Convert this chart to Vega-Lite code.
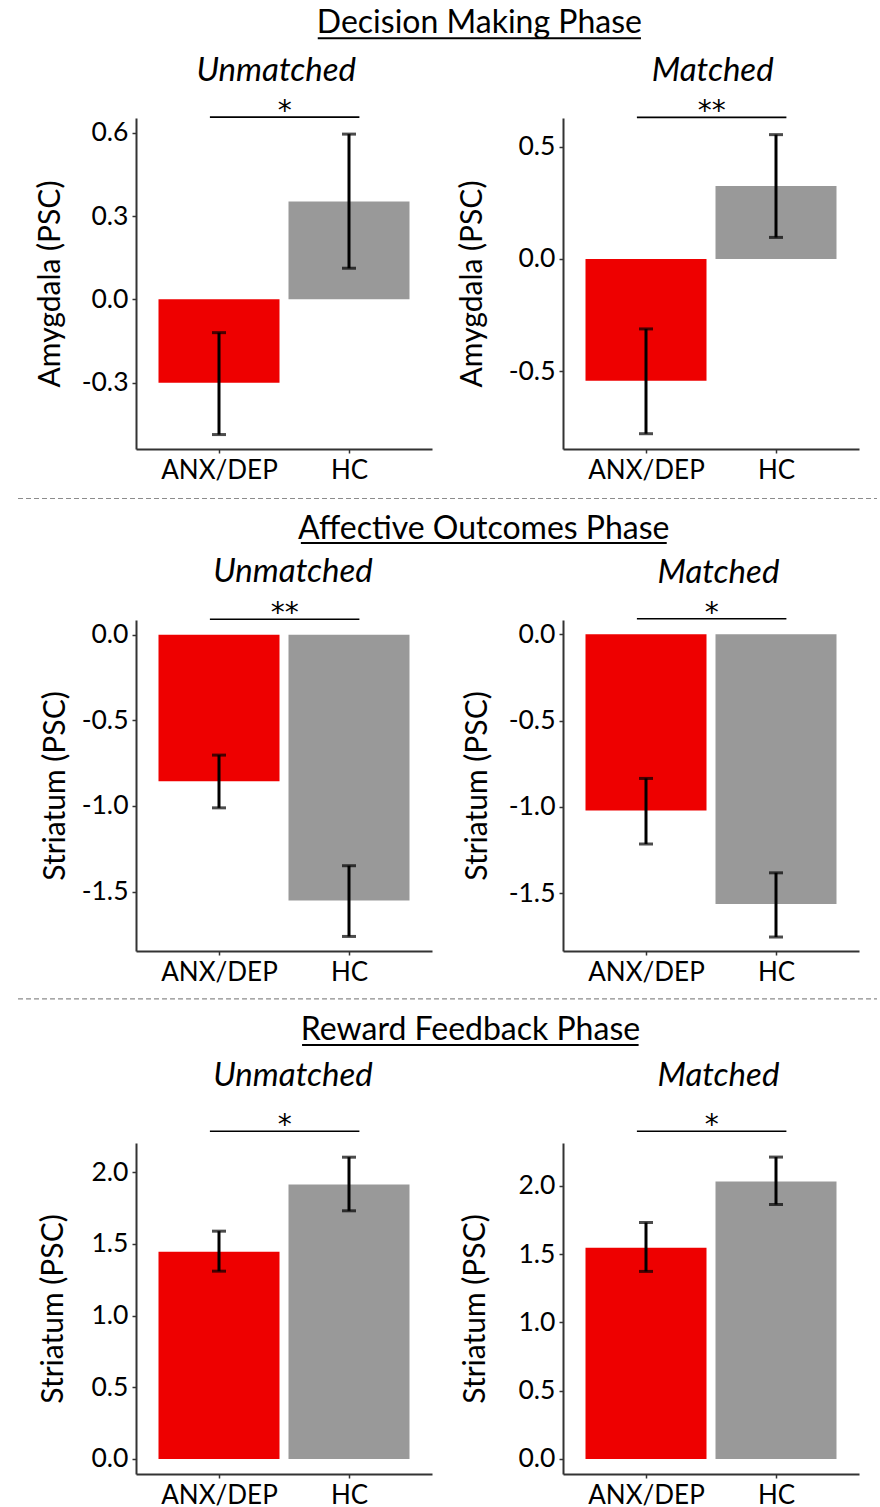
{
  "$schema": "https://vega.github.io/schema/vega-lite/v6.json",
  "background": "white",
  "padding": {"left": 17, "top": 0, "right": 0, "bottom": 0},
  "datasets": {
    "bars": [
      {"panel": "P1", "group": "ANX/DEP", "pos": 1, "psc": -0.300, "lo": -0.487, "hi": -0.120},
      {"panel": "P1", "group": "HC", "pos": 2, "psc": 0.352, "lo": 0.112, "hi": 0.595},
      {"panel": "P2", "group": "ANX/DEP", "pos": 1, "psc": -0.542, "lo": -0.777, "hi": -0.311},
      {"panel": "P2", "group": "HC", "pos": 2, "psc": 0.325, "lo": 0.096, "hi": 0.553},
      {"panel": "P3", "group": "ANX/DEP", "pos": 1, "psc": -0.855, "lo": -1.011, "hi": -0.703},
      {"panel": "P3", "group": "HC", "pos": 2, "psc": -1.552, "lo": -1.762, "hi": -1.349},
      {"panel": "P4", "group": "ANX/DEP", "pos": 1, "psc": -1.021, "lo": -1.215, "hi": -0.835},
      {"panel": "P4", "group": "HC", "pos": 2, "psc": -1.563, "lo": -1.754, "hi": -1.382},
      {"panel": "P5", "group": "ANX/DEP", "pos": 1, "psc": 1.445, "lo": 1.310, "hi": 1.589},
      {"panel": "P5", "group": "HC", "pos": 2, "psc": 1.915, "lo": 1.731, "hi": 2.105},
      {"panel": "P6", "group": "ANX/DEP", "pos": 1, "psc": 1.547, "lo": 1.373, "hi": 1.731},
      {"panel": "P6", "group": "HC", "pos": 2, "psc": 2.032, "lo": 1.863, "hi": 2.210}
    ],
    "sig": [
      {"panel": "P1", "sample": "Unmatched", "y": 0.656, "label": "*"},
      {"panel": "P2", "sample": "Matched", "y": 0.630, "label": "**"},
      {"panel": "P3", "sample": "Unmatched", "y": 0.090, "label": "**"},
      {"panel": "P4", "sample": "Matched", "y": 0.090, "label": "*"},
      {"panel": "P5", "sample": "Unmatched", "y": 2.286, "label": "*"},
      {"panel": "P6", "sample": "Matched", "y": 2.399, "label": "*"}
    ],
    "sections": [
      {"row": 1, "title": "Decision Making Phase"},
      {"row": 2, "title": "Affective Outcomes Phase"},
      {"row": 3, "title": "Reward Feedback Phase"}
    ]
  },
  "columns": 2,
  "bounds": "flush",
  "align": "each",
  "spacing": {"row": 0, "column": 131},
  "concat": [
    {
      "width": 296, "height": 118,
      "data": {"name": "sections"},
      "transform": [{"filter": "datum.row === 1"}],
      "layer": [
        {"mark": {"type": "text", "fontSize": 32, "baseline": "alphabetic", "align": "center", "color": "black"},
         "encoding": {
           "x": {"datum": 1.16, "type": "quantitative", "scale": {"domain": [0, 1], "nice": false, "zero": false}, "axis": null},
           "y": {"datum": 0.2822, "type": "quantitative", "scale": {"domain": [0, 1], "reverse": true, "nice": false, "zero": false}, "axis": null},
           "text": {"field": "title"}}},
        {"mark": {"type": "rule", "strokeWidth": 2, "color": "black"},
         "encoding": {"x": {"datum": 0.614, "type": "quantitative"}, "x2": {"datum": 1.706}, "y": {"datum": 0.3246, "type": "quantitative"}}}
      ]
    },
    {"width": 296, "height": 118, "data": {"values": [{"t": ""}]}, "mark": "text", "encoding": {"text": {"field": "t"}}},
    {
      "width": 296, "height": 331,
      "data": {"name": "bars"},
      "transform": [{"filter": "datum.panel === 'P1'"}],
      "layer": [
        {"mark": {"type": "bar", "width": 121, "orient": "vertical"},
         "encoding": {
           "x": {"field": "pos", "type": "quantitative", "title": null, "scale": {"domain": [0.4, 2.6], "nice": false, "zero": false}, "axis": {"values": [1, 2], "labelExpr": "datum.value === 1 ? 'ANX/DEP' : 'HC'"}},
           "y": {"field": "psc", "type": "quantitative", "title": "Amygdala (PSC)", "scale": {"domain": [-0.539, 0.653], "nice": false, "zero": false}, "axis": {"values": [-0.3, 0, 0.3, 0.6], "format": ".1f", "titlePadding": 16}},
           "y2": {"datum": 0},
           "color": {"field": "group", "type": "nominal", "scale": {"domain": ["ANX/DEP", "HC"], "range": ["#ee0000", "#999999"]}, "legend": null}}},
        {"mark": {"type": "rule", "strokeWidth": 3, "color": "black"},
         "encoding": {"x": {"field": "pos", "type": "quantitative", "title": null}, "y": {"field": "lo", "type": "quantitative", "title": "Amygdala (PSC)"}, "y2": {"field": "hi"}}},
        {"mark": {"type": "tick", "orient": "horizontal", "size": 14, "thickness": 3, "color": "black"},
         "encoding": {"x": {"field": "pos", "type": "quantitative", "title": null}, "y": {"field": "lo", "type": "quantitative", "title": "Amygdala (PSC)"}}},
        {"mark": {"type": "tick", "orient": "horizontal", "size": 14, "thickness": 3, "color": "black"},
         "encoding": {"x": {"field": "pos", "type": "quantitative", "title": null}, "y": {"field": "hi", "type": "quantitative", "title": "Amygdala (PSC)"}}},
        {"data": {"name": "sig"}, "transform": [{"filter": "datum.panel === 'P1'"}],
         "mark": {"type": "rule", "strokeWidth": 1.6, "color": "black"},
         "encoding": {"x": {"datum": 0.93, "type": "quantitative"}, "x2": {"datum": 2.08}, "y": {"field": "y", "type": "quantitative", "title": "Amygdala (PSC)"}}},
        {"data": {"name": "sig"}, "transform": [{"filter": "datum.panel === 'P1'"}],
         "mark": {"type": "text", "font": "DejaVu Sans", "fontSize": 28, "baseline": "alphabetic", "dy": 3, "color": "black"},
         "encoding": {"x": {"datum": 1.505, "type": "quantitative"}, "y": {"field": "y", "type": "quantitative", "title": "Amygdala (PSC)"}, "text": {"field": "label"}}},
        {"data": {"name": "sig"}, "transform": [{"filter": "datum.panel === 'P1'"}],
         "mark": {"type": "text", "fontSize": 33, "fontStyle": "italic", "baseline": "alphabetic", "align": "center", "color": "black"},
         "encoding": {"x": {"datum": 1.44, "type": "quantitative"}, "y": {"datum": 0.786, "type": "quantitative"}, "text": {"field": "sample"}}}
      ]
    },
    {
      "width": 296, "height": 331,
      "data": {"name": "bars"},
      "transform": [{"filter": "datum.panel === 'P2'"}],
      "layer": [
        {"mark": {"type": "bar", "width": 121, "orient": "vertical"},
         "encoding": {
           "x": {"field": "pos", "type": "quantitative", "title": null, "scale": {"domain": [0.4, 2.6], "nice": false, "zero": false}, "axis": {"values": [1, 2], "labelExpr": "datum.value === 1 ? 'ANX/DEP' : 'HC'"}},
           "y": {"field": "psc", "type": "quantitative", "title": "Amygdala (PSC)", "scale": {"domain": [-0.845, 0.627], "nice": false, "zero": false}, "axis": {"values": [-0.5, 0, 0.5], "format": ".1f", "titlePadding": 21}},
           "y2": {"datum": 0},
           "color": {"field": "group", "type": "nominal", "scale": {"domain": ["ANX/DEP", "HC"], "range": ["#ee0000", "#999999"]}, "legend": null}}},
        {"mark": {"type": "rule", "strokeWidth": 3, "color": "black"},
         "encoding": {"x": {"field": "pos", "type": "quantitative", "title": null}, "y": {"field": "lo", "type": "quantitative", "title": "Amygdala (PSC)"}, "y2": {"field": "hi"}}},
        {"mark": {"type": "tick", "orient": "horizontal", "size": 14, "thickness": 3, "color": "black"},
         "encoding": {"x": {"field": "pos", "type": "quantitative", "title": null}, "y": {"field": "lo", "type": "quantitative", "title": "Amygdala (PSC)"}}},
        {"mark": {"type": "tick", "orient": "horizontal", "size": 14, "thickness": 3, "color": "black"},
         "encoding": {"x": {"field": "pos", "type": "quantitative", "title": null}, "y": {"field": "hi", "type": "quantitative", "title": "Amygdala (PSC)"}}},
        {"data": {"name": "sig"}, "transform": [{"filter": "datum.panel === 'P2'"}],
         "mark": {"type": "rule", "strokeWidth": 1.6, "color": "black"},
         "encoding": {"x": {"datum": 0.93, "type": "quantitative"}, "x2": {"datum": 2.08}, "y": {"field": "y", "type": "quantitative", "title": "Amygdala (PSC)"}}},
        {"data": {"name": "sig"}, "transform": [{"filter": "datum.panel === 'P2'"}],
         "mark": {"type": "text", "font": "DejaVu Sans", "fontSize": 28, "baseline": "alphabetic", "dy": 3, "color": "black"},
         "encoding": {"x": {"datum": 1.505, "type": "quantitative"}, "y": {"field": "y", "type": "quantitative", "title": "Amygdala (PSC)"}, "text": {"field": "label"}}},
        {"data": {"name": "sig"}, "transform": [{"filter": "datum.panel === 'P2'"}],
         "mark": {"type": "text", "fontSize": 33, "fontStyle": "italic", "baseline": "alphabetic", "align": "center", "color": "black"},
         "encoding": {"x": {"datum": 1.513, "type": "quantitative"}, "y": {"datum": 0.7915, "type": "quantitative"}, "text": {"field": "sample"}}}
      ]
    },
    {
      "width": 296, "height": 170.5,
      "data": {"name": "sections"},
      "transform": [{"filter": "datum.row === 2"}],
      "layer": [
        {"mark": {"type": "rule", "strokeWidth": 1.2, "color": "#8c8c8c", "strokeDash": [5, 3]},
         "encoding": {
           "x": {"datum": -0.3986, "type": "quantitative", "scale": {"domain": [0, 1], "nice": false, "zero": false}, "axis": null},
           "x2": {"datum": 2.5034},
           "y": {"datum": 0.2903, "type": "quantitative", "scale": {"domain": [0, 1], "reverse": true, "nice": false, "zero": false}, "axis": null}}},
        {"mark": {"type": "text", "fontSize": 32, "baseline": "alphabetic", "align": "center", "color": "black"},
         "encoding": {"x": {"datum": 1.175, "type": "quantitative"}, "y": {"datum": 0.525, "type": "quantitative"}, "text": {"field": "title"}}},
        {"mark": {"type": "rule", "strokeWidth": 2, "color": "black"},
         "encoding": {"x": {"datum": 0.557, "type": "quantitative"}, "x2": {"datum": 1.793}, "y": {"datum": 0.5513, "type": "quantitative"}}}
      ]
    },
    {"width": 296, "height": 170.5, "data": {"values": [{"t": ""}]}, "mark": "text", "encoding": {"text": {"field": "t"}}},
    {
      "width": 296, "height": 331,
      "data": {"name": "bars"},
      "transform": [{"filter": "datum.panel === 'P3'"}],
      "layer": [
        {"mark": {"type": "bar", "width": 121, "orient": "vertical"},
         "encoding": {
           "x": {"field": "pos", "type": "quantitative", "title": null, "scale": {"domain": [0.4, 2.6], "nice": false, "zero": false}, "axis": {"values": [1, 2], "labelExpr": "datum.value === 1 ? 'ANX/DEP' : 'HC'"}},
           "y": {"field": "psc", "type": "quantitative", "title": "Striatum (PSC)", "scale": {"domain": [-1.847, 0.086], "nice": false, "zero": false}, "axis": {"values": [-1.5, -1, -0.5, 0], "format": ".1f", "titlePadding": 11}},
           "y2": {"datum": 0},
           "color": {"field": "group", "type": "nominal", "scale": {"domain": ["ANX/DEP", "HC"], "range": ["#ee0000", "#999999"]}, "legend": null}}},
        {"mark": {"type": "rule", "strokeWidth": 3, "color": "black"},
         "encoding": {"x": {"field": "pos", "type": "quantitative", "title": null}, "y": {"field": "lo", "type": "quantitative", "title": "Striatum (PSC)"}, "y2": {"field": "hi"}}},
        {"mark": {"type": "tick", "orient": "horizontal", "size": 14, "thickness": 3, "color": "black"},
         "encoding": {"x": {"field": "pos", "type": "quantitative", "title": null}, "y": {"field": "lo", "type": "quantitative", "title": "Striatum (PSC)"}}},
        {"mark": {"type": "tick", "orient": "horizontal", "size": 14, "thickness": 3, "color": "black"},
         "encoding": {"x": {"field": "pos", "type": "quantitative", "title": null}, "y": {"field": "hi", "type": "quantitative", "title": "Striatum (PSC)"}}},
        {"data": {"name": "sig"}, "transform": [{"filter": "datum.panel === 'P3'"}],
         "mark": {"type": "rule", "strokeWidth": 1.6, "color": "black"},
         "encoding": {"x": {"datum": 0.93, "type": "quantitative"}, "x2": {"datum": 2.08}, "y": {"field": "y", "type": "quantitative", "title": "Striatum (PSC)"}}},
        {"data": {"name": "sig"}, "transform": [{"filter": "datum.panel === 'P3'"}],
         "mark": {"type": "text", "font": "DejaVu Sans", "fontSize": 28, "baseline": "alphabetic", "dy": 3, "color": "black"},
         "encoding": {"x": {"datum": 1.505, "type": "quantitative"}, "y": {"field": "y", "type": "quantitative", "title": "Striatum (PSC)"}, "text": {"field": "label"}}},
        {"data": {"name": "sig"}, "transform": [{"filter": "datum.panel === 'P3'"}],
         "mark": {"type": "text", "fontSize": 33, "fontStyle": "italic", "baseline": "alphabetic", "align": "center", "color": "black"},
         "encoding": {"x": {"datum": 1.569, "type": "quantitative"}, "y": {"datum": 0.3068, "type": "quantitative"}, "text": {"field": "sample"}}}
      ]
    },
    {
      "width": 296, "height": 331,
      "data": {"name": "bars"},
      "transform": [{"filter": "datum.panel === 'P4'"}],
      "layer": [
        {"mark": {"type": "bar", "width": 121, "orient": "vertical"},
         "encoding": {
           "x": {"field": "pos", "type": "quantitative", "title": null, "scale": {"domain": [0.4, 2.6], "nice": false, "zero": false}, "axis": {"values": [1, 2], "labelExpr": "datum.value === 1 ? 'ANX/DEP' : 'HC'"}},
           "y": {"field": "psc", "type": "quantitative", "title": "Striatum (PSC)", "scale": {"domain": [-1.835, 0.083], "nice": false, "zero": false}, "axis": {"values": [-1.5, -1, -0.5, 0], "format": ".1f", "titlePadding": 16}},
           "y2": {"datum": 0},
           "color": {"field": "group", "type": "nominal", "scale": {"domain": ["ANX/DEP", "HC"], "range": ["#ee0000", "#999999"]}, "legend": null}}},
        {"mark": {"type": "rule", "strokeWidth": 3, "color": "black"},
         "encoding": {"x": {"field": "pos", "type": "quantitative", "title": null}, "y": {"field": "lo", "type": "quantitative", "title": "Striatum (PSC)"}, "y2": {"field": "hi"}}},
        {"mark": {"type": "tick", "orient": "horizontal", "size": 14, "thickness": 3, "color": "black"},
         "encoding": {"x": {"field": "pos", "type": "quantitative", "title": null}, "y": {"field": "lo", "type": "quantitative", "title": "Striatum (PSC)"}}},
        {"mark": {"type": "tick", "orient": "horizontal", "size": 14, "thickness": 3, "color": "black"},
         "encoding": {"x": {"field": "pos", "type": "quantitative", "title": null}, "y": {"field": "hi", "type": "quantitative", "title": "Striatum (PSC)"}}},
        {"data": {"name": "sig"}, "transform": [{"filter": "datum.panel === 'P4'"}],
         "mark": {"type": "rule", "strokeWidth": 1.6, "color": "black"},
         "encoding": {"x": {"datum": 0.93, "type": "quantitative"}, "x2": {"datum": 2.08}, "y": {"field": "y", "type": "quantitative", "title": "Striatum (PSC)"}}},
        {"data": {"name": "sig"}, "transform": [{"filter": "datum.panel === 'P4'"}],
         "mark": {"type": "text", "font": "DejaVu Sans", "fontSize": 28, "baseline": "alphabetic", "dy": 3, "color": "black"},
         "encoding": {"x": {"datum": 1.505, "type": "quantitative"}, "y": {"field": "y", "type": "quantitative", "title": "Striatum (PSC)"}, "text": {"field": "label"}}},
        {"data": {"name": "sig"}, "transform": [{"filter": "datum.panel === 'P4'"}],
         "mark": {"type": "text", "fontSize": 33, "fontStyle": "italic", "baseline": "alphabetic", "align": "center", "color": "black"},
         "encoding": {"x": {"datum": 1.557, "type": "quantitative"}, "y": {"datum": 0.300, "type": "quantitative"}, "text": {"field": "sample"}}}
      ]
    },
    {
      "width": 296, "height": 191.5,
      "data": {"name": "sections"},
      "transform": [{"filter": "datum.row === 3"}],
      "layer": [
        {"mark": {"type": "rule", "strokeWidth": 1.2, "color": "#8c8c8c", "strokeDash": [5, 3]},
         "encoding": {
           "x": {"datum": -0.3986, "type": "quantitative", "scale": {"domain": [0, 1], "nice": false, "zero": false}, "axis": null},
           "x2": {"datum": 2.5034},
           "y": {"datum": 0.2496, "type": "quantitative", "scale": {"domain": [0, 1], "reverse": true, "nice": false, "zero": false}, "axis": null}}},
        {"mark": {"type": "text", "fontSize": 32, "baseline": "alphabetic", "align": "center", "color": "black"},
         "encoding": {"x": {"datum": 1.13, "type": "quantitative"}, "y": {"datum": 0.4648, "type": "quantitative"}, "text": {"field": "title"}}},
        {"mark": {"type": "rule", "strokeWidth": 2, "color": "black"},
         "encoding": {"x": {"datum": 0.561, "type": "quantitative"}, "x2": {"datum": 1.698}, "y": {"datum": 0.4909, "type": "quantitative"}}}
      ]
    },
    {"width": 296, "height": 191.5, "data": {"values": [{"t": ""}]}, "mark": "text", "encoding": {"text": {"field": "t"}}},
    {
      "width": 296, "height": 331,
      "data": {"name": "bars"},
      "transform": [{"filter": "datum.panel === 'P5'"}],
      "layer": [
        {"mark": {"type": "bar", "width": 121, "orient": "vertical"},
         "encoding": {
           "x": {"field": "pos", "type": "quantitative", "title": null, "scale": {"domain": [0.4, 2.6], "nice": false, "zero": false}, "axis": {"values": [1, 2], "labelExpr": "datum.value === 1 ? 'ANX/DEP' : 'HC'"}},
           "y": {"field": "psc", "type": "quantitative", "title": "Striatum (PSC)", "scale": {"domain": [-0.105, 2.204], "nice": false, "zero": false}, "axis": {"values": [0, 0.5, 1, 1.5, 2], "format": ".1f", "titlePadding": 23}},
           "y2": {"datum": 0},
           "color": {"field": "group", "type": "nominal", "scale": {"domain": ["ANX/DEP", "HC"], "range": ["#ee0000", "#999999"]}, "legend": null}}},
        {"mark": {"type": "rule", "strokeWidth": 3, "color": "black"},
         "encoding": {"x": {"field": "pos", "type": "quantitative", "title": null}, "y": {"field": "lo", "type": "quantitative", "title": "Striatum (PSC)"}, "y2": {"field": "hi"}}},
        {"mark": {"type": "tick", "orient": "horizontal", "size": 14, "thickness": 3, "color": "black"},
         "encoding": {"x": {"field": "pos", "type": "quantitative", "title": null}, "y": {"field": "lo", "type": "quantitative", "title": "Striatum (PSC)"}}},
        {"mark": {"type": "tick", "orient": "horizontal", "size": 14, "thickness": 3, "color": "black"},
         "encoding": {"x": {"field": "pos", "type": "quantitative", "title": null}, "y": {"field": "hi", "type": "quantitative", "title": "Striatum (PSC)"}}},
        {"data": {"name": "sig"}, "transform": [{"filter": "datum.panel === 'P5'"}],
         "mark": {"type": "rule", "strokeWidth": 1.6, "color": "black"},
         "encoding": {"x": {"datum": 0.93, "type": "quantitative"}, "x2": {"datum": 2.08}, "y": {"field": "y", "type": "quantitative", "title": "Striatum (PSC)"}}},
        {"data": {"name": "sig"}, "transform": [{"filter": "datum.panel === 'P5'"}],
         "mark": {"type": "text", "font": "DejaVu Sans", "fontSize": 28, "baseline": "alphabetic", "dy": 3, "color": "black"},
         "encoding": {"x": {"datum": 1.505, "type": "quantitative"}, "y": {"field": "y", "type": "quantitative", "title": "Striatum (PSC)"}, "text": {"field": "label"}}},
        {"data": {"name": "sig"}, "transform": [{"filter": "datum.panel === 'P5'"}],
         "mark": {"type": "text", "fontSize": 33, "fontStyle": "italic", "baseline": "alphabetic", "align": "center", "color": "black"},
         "encoding": {"x": {"datum": 1.569, "type": "quantitative"}, "y": {"datum": 2.6016, "type": "quantitative"}, "text": {"field": "sample"}}}
      ]
    },
    {
      "width": 296, "height": 331,
      "data": {"name": "bars"},
      "transform": [{"filter": "datum.panel === 'P6'"}],
      "layer": [
        {"mark": {"type": "bar", "width": 121, "orient": "vertical"},
         "encoding": {
           "x": {"field": "pos", "type": "quantitative", "title": null, "scale": {"domain": [0.4, 2.6], "nice": false, "zero": false}, "axis": {"values": [1, 2], "labelExpr": "datum.value === 1 ? 'ANX/DEP' : 'HC'"}},
           "y": {"field": "psc", "type": "quantitative", "title": "Striatum (PSC)", "scale": {"domain": [-0.110, 2.313], "nice": false, "zero": false}, "axis": {"values": [0, 0.5, 1, 1.5, 2], "format": ".1f", "titlePadding": 28}},
           "y2": {"datum": 0},
           "color": {"field": "group", "type": "nominal", "scale": {"domain": ["ANX/DEP", "HC"], "range": ["#ee0000", "#999999"]}, "legend": null}}},
        {"mark": {"type": "rule", "strokeWidth": 3, "color": "black"},
         "encoding": {"x": {"field": "pos", "type": "quantitative", "title": null}, "y": {"field": "lo", "type": "quantitative", "title": "Striatum (PSC)"}, "y2": {"field": "hi"}}},
        {"mark": {"type": "tick", "orient": "horizontal", "size": 14, "thickness": 3, "color": "black"},
         "encoding": {"x": {"field": "pos", "type": "quantitative", "title": null}, "y": {"field": "lo", "type": "quantitative", "title": "Striatum (PSC)"}}},
        {"mark": {"type": "tick", "orient": "horizontal", "size": 14, "thickness": 3, "color": "black"},
         "encoding": {"x": {"field": "pos", "type": "quantitative", "title": null}, "y": {"field": "hi", "type": "quantitative", "title": "Striatum (PSC)"}}},
        {"data": {"name": "sig"}, "transform": [{"filter": "datum.panel === 'P6'"}],
         "mark": {"type": "rule", "strokeWidth": 1.6, "color": "black"},
         "encoding": {"x": {"datum": 0.93, "type": "quantitative"}, "x2": {"datum": 2.08}, "y": {"field": "y", "type": "quantitative", "title": "Striatum (PSC)"}}},
        {"data": {"name": "sig"}, "transform": [{"filter": "datum.panel === 'P6'"}],
         "mark": {"type": "text", "font": "DejaVu Sans", "fontSize": 28, "baseline": "alphabetic", "dy": 3, "color": "black"},
         "encoding": {"x": {"datum": 1.505, "type": "quantitative"}, "y": {"field": "y", "type": "quantitative", "title": "Striatum (PSC)"}, "text": {"field": "label"}}},
        {"data": {"name": "sig"}, "transform": [{"filter": "datum.panel === 'P6'"}],
         "mark": {"type": "text", "fontSize": 33, "fontStyle": "italic", "baseline": "alphabetic", "align": "center", "color": "black"},
         "encoding": {"x": {"datum": 1.557, "type": "quantitative"}, "y": {"datum": 2.730, "type": "quantitative"}, "text": {"field": "sample"}}}
      ]
    }
  ],
  "config": {
    "font": "Lato",
    "locale": {"number": {"decimal": ".", "thousands": ",", "grouping": [3], "currency": ["$", ""], "minus": "-"}},
    "view": {"stroke": null},
    "axis": {"domainColor": "#333333", "domainWidth": 2, "tickColor": "#333333", "tickWidth": 1.5, "tickSize": 4, "grid": false, "labelColor": "black", "titleColor": "black", "labelFont": "Lato", "titleFont": "Lato", "titleFontWeight": "normal", "labelFontSize": 26, "titleFontSize": 30},
    "axisX": {"labelPadding": 4, "labelFontSize": 26},
    "axisY": {"labelPadding": 4, "labelFontSize": 26.5}
  }
}
